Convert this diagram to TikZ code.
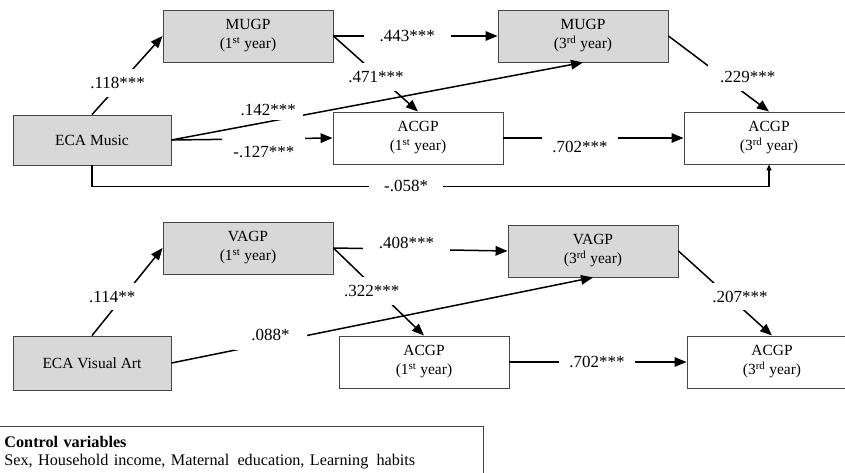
\documentclass[tikz,border=0pt]{standalone}
\usepackage{fontspec}
\setmainfont{Liberation Serif}
\usetikzlibrary{arrows.meta}
\definecolor{boxgray}{RGB}{216,216,216}
\definecolor{edgegray}{RGB}{70,70,70}
\newcommand{\yr}[2]{(#1\textsuperscript{#2} year)}

\begin{document}
\begin{tikzpicture}[x=1pt, y=-1pt,
    box/.style={draw=edgegray, line width=0.9pt, minimum width=170pt, minimum height=52pt,
        align=center, font=\fontsize{15.5}{19}\selectfont},
    grey/.style={box, fill=boxgray},
    link/.style={line width=1.5pt, -{Triangle[length=12pt,width=9.5pt]}},
    coef/.style={fill=white, inner xsep=10pt, inner ysep=8pt, font=\fontsize{17}{17}\selectfont}]
    \useasboundingbox (0,0) rectangle (845,473);

    \node[grey] (mugpA) at (248,36) {MUGP\\\yr{1}{st}};
    \node[grey] (mugpC) at (583,36) {MUGP\\\yr{3}{rd}};
    \node[grey, minimum width=158pt, minimum height=50pt] (ecaM) at (92,140) {ECA Music};
    \node[box] (acgpA) at (418,138) {ACGP\\\yr{1}{st}};
    \node[box] (acgpC) at (769,138) {ACGP\\\yr{3}{rd}};

    \node[grey] (vagpA) at (248,248) {VAGP\\\yr{1}{st}};
    \node[grey] (vagpC) at (593,251) {VAGP\\\yr{3}{rd}};
    \node[grey, minimum width=158pt, minimum height=54pt] (ecaV) at (92,363) {ECA Visual Art};
    \node[box] (acgpB) at (424,362) {ACGP\\\yr{1}{st}};
    \node[box] (acgpD) at (772,362) {ACGP\\\yr{3}{rd}};

    \draw[link] (ecaM.north) -- (mugpA.west) node[coef, pos=0.405, xshift=-3pt] {.118***};
    \draw[link] (mugpA.east) -- (mugpC.west) node[coef, pos=0.45, inner xsep=16pt] {.443***};
    \draw[link] (mugpA.east) -- (acgpA.north) node[coef, pos=0.54, xshift=-3pt] {.471***};
    \draw[link] (ecaM.east) -- (mugpC.south)
        node[coef, pos=0.235, yshift=11.7pt, inner xsep=7pt, inner ysep=4pt] {.142***};
    \draw[link] (ecaM.east) -- (acgpA.west)
        node[coef, pos=0.574, yshift=-13pt, inner xsep=11pt, inner ysep=9pt] {-.127***};
    \draw[link] (acgpA.east) -- (acgpC.west)
        node[coef, pos=0.425, yshift=-9pt, inner xsep=10pt, inner ysep=6pt] {.702***};
    \draw[link] (mugpC.east) -- (acgpC.north) node[coef, pos=0.54, xshift=25pt, inner xsep=12pt] {.229***};
    \draw[line width=1.5pt, -{Triangle[length=6pt,width=5pt]}] (ecaM.south) -- ++(0,21) -| (acgpC.south)
        node[coef, pos=0.232, inner xsep=15pt] {-.058*};

    \draw[link] (ecaV.north) -- (vagpA.west) node[coef, pos=0.443, xshift=-11pt] {.114**};
    \draw[link] (vagpA.east) -- (vagpC.west) node[coef, pos=0.42, yshift=6pt, inner xsep=16pt] {.408***};
    \draw[link] (vagpA.east) -- (acgpB.north) node[coef, pos=0.49, xshift=-6pt] {.322***};
    \draw[link] (ecaV.east) -- (vagpC.south)
        node[coef, pos=0.235, yshift=8pt, inner xsep=17pt, inner ysep=9pt] {.088*};
    \draw[link] (acgpB.east) -- (acgpD.west) node[coef, pos=0.494, inner xsep=10pt] {.702***};
    \draw[link] (vagpC.east) -- (acgpD.north) node[coef, pos=0.54, xshift=11pt] {.207***};

    \node[draw=edgegray, line width=0.9pt, anchor=north west, minimum height=52pt, inner xsep=9pt,
        text width=470pt, align=left, font=\fontsize{16.2}{18}\selectfont] (ctrl) at (-5,426)
        {\textbf{Control variables}\\Sex, Household income, Maternal\,\ education, Learning\,\ habits};
\end{tikzpicture}
\end{document}
